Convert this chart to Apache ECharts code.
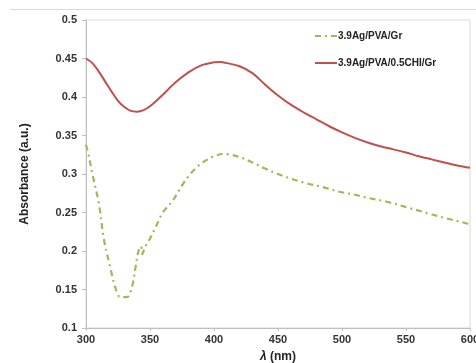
<!DOCTYPE html>
<html><head><meta charset="utf-8">
<script src="https://cdn.jsdelivr.net/npm/echarts@6/dist/echarts.min.js"></script>
<style>html,body{margin:0;padding:0;background:#fff;overflow:hidden;width:476px;height:363px}#c{width:476px;height:363px;position:absolute;left:0;top:0}</style>
</head><body><div id="c"></div>
<script>
const seriesNames = ['3.9Ag/PVA/Gr', '3.9Ag/PVA/0.5CHI/Gr'];
const greenWavelengths = [300,302,305,310,314,319,323,327,332,336,339,341,343,344,346,350,355,360,368,375,381,388,395,400,407,413,420,430,440,450,460,472,485,498,510,520,535,550,565,580,597,600];
const greenValues = [0.338,0.325,0.300,0.262,0.215,0.178,0.152,0.140,0.140,0.154,0.182,0.200,0.206,0.196,0.205,0.216,0.233,0.250,0.266,0.285,0.299,0.311,0.319,0.323,0.326,0.325,0.322,0.315,0.307,0.300,0.294,0.288,0.283,0.277,0.273,0.269,0.264,0.257,0.250,0.243,0.236,0.234];
const redWavelengths = [300,305,310,315,320,325,330,335,340,345,350,355,360,370,380,390,400,405,410,420,430,440,450,460,470,480,490,500,510,520,530,540,550,560,570,580,590,600];
const redValues = [0.450,0.444,0.433,0.420,0.407,0.395,0.387,0.382,0.381,0.383,0.388,0.395,0.403,0.419,0.432,0.441,0.445,0.4455,0.444,0.440,0.431,0.416,0.402,0.390,0.380,0.371,0.362,0.354,0.347,0.341,0.336,0.332,0.328,0.323,0.319,0.315,0.311,0.308];
const xTicks = [300,350,400,450,500,550,600];
const yTicks = [0.1,0.15,0.2,0.25,0.3,0.35,0.4,0.45,0.5];

const chart = echarts.init(document.getElementById('c'), null, {renderer:'canvas', width:476, height:363});
const pair = (xs, ys) => xs.map((x,i)=>[x, ys[i]]);
const font = 'Liberation Sans, Arial, sans-serif';
chart.setOption({
  animation:false,
  grid:{left:86,right:6,top:20,bottom:35,show:true,borderColor:'#d9d9d9',borderWidth:1,containLabel:false,outerBoundsMode:'none'},
  graphic:[{type:'line',shape:{x1:10,y1:9.5,x2:476,y2:9.5},style:{stroke:'#d9d9d9',lineWidth:1}}],
  legend:{
    orient:'vertical', left:309, top:26, itemWidth:22, itemHeight:10, itemGap:17,
    itemStyle:{opacity:0},
    textStyle:{fontFamily:font,fontWeight:'bold',fontSize:10,color:'#222',padding:[0,0,0,-4]},
    data:seriesNames
  },
  xAxis:{
    type:'value', min:300, max:600, interval:50,
    name:'{i|λ} (nm)', nameLocation:'middle', nameGap:23,
    nameTextStyle:{fontFamily:font,fontWeight:'bold',fontSize:12,color:'#222',
      rich:{i:{fontStyle:'italic',fontWeight:'bold',fontSize:12,fontFamily:font,color:'#222'}}},
    axisLine:{lineStyle:{color:'#bfbfbf'}},
    axisTick:{show:true,length:3,lineStyle:{color:'#bfbfbf'}},
    axisLabel:{fontFamily:font,fontWeight:'bold',fontSize:11,color:'#333',margin:6,
      formatter:v=>xTicks.includes(v)?String(v):''},
    splitLine:{show:false}
  },
  yAxis:{
    type:'value', min:0.1, max:0.5, interval:0.05,
    name:'Absorbance (a.u.)', nameLocation:'middle', nameGap:55,
    nameTextStyle:{fontFamily:font,fontWeight:'bold',fontSize:12,color:'#222'},
    axisLine:{show:true,lineStyle:{color:'#bfbfbf'}},
    axisTick:{show:true,length:4,lineStyle:{color:'#bfbfbf'}},
    axisLabel:{fontFamily:font,fontWeight:'bold',fontSize:11,color:'#333',margin:9,
      formatter:v=>{const t=yTicks.find(y=>Math.abs(y-v)<1e-6);return t===undefined?'':String(t);}},
    splitLine:{show:false}
  },
  series:[
    {name:seriesNames[0],type:'line',data:pair(greenWavelengths,greenValues),smooth:0.35,symbol:'none',
     lineStyle:{color:'#9bbb59',width:2.2,type:[6,4,2,4]},itemStyle:{color:'#9bbb59'}},
    {name:seriesNames[1],type:'line',data:pair(redWavelengths,redValues),smooth:0.35,symbol:'none',
     lineStyle:{color:'#c0504d',width:2},itemStyle:{color:'#c0504d'}}
  ]
});
</script></body></html>
